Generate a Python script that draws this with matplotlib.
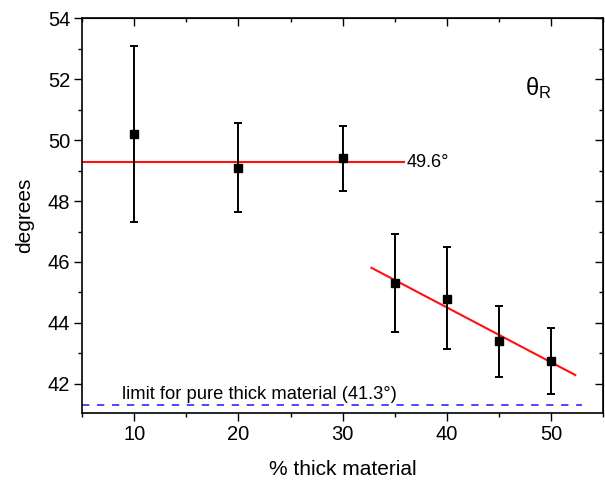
import matplotlib.pyplot as plt
import numpy as np

plt.rcParams['font.family'] = ['Liberation Sans', 'DejaVu Sans']

# measured points
pct = [10, 20, 30, 35, 40, 45, 50]
theta = [50.2, 49.1, 49.4, 45.31, 44.78, 43.4, 42.76]
err_hi = [53.08, 50.55, 50.47, 46.92, 46.48, 44.57, 43.82]
err_lo = [47.32, 47.64, 48.34, 43.69, 43.13, 42.22, 41.67]

# fitted lines
flat_x = [5, 35.9]
flat_y = [49.27, 49.27]
slope_x = [32.75, 52.3]
slope_y = [45.81, 42.29]
limit_x = [5, 52.9]
limit_y = [41.3, 41.3]

theta = np.array(theta)
yerr = [theta - np.array(err_lo), np.array(err_hi) - theta]

fig = plt.figure(figsize=(6.05, 4.8), dpi=100)
ax = fig.add_axes([0.1355, 0.14, 0.862, 0.822])

ax.plot(flat_x, flat_y, color='#ff1010', lw=1.5, zorder=2)
ax.plot(slope_x, slope_y, color='#ff1010', lw=1.5, zorder=2)
ax.plot(limit_x, limit_y, color='#1818ff', lw=1.1, ls=(0, (4.8, 5)), zorder=2)
ax.errorbar(pct, theta, yerr=yerr, fmt='s', color='black', ms=6,
            elinewidth=1.4, capsize=3.1, capthick=1.4, zorder=3)

ax.text(36.15, 49.25, '49.6°', fontsize=13, va='center', ha='left')
ax.text(8.8, 41.66, 'limit for pure thick material (41.3°)', fontsize=13.2,
        va='center', ha='left')
ax.text(47.5, 51.7, r'$\mathregular{θ_R}$', fontsize=17, va='center', ha='left')

ax.set_xlim(5, 55)
ax.set_ylim(41.05, 54)
ax.set_xticks([10, 20, 30, 40, 50])
ax.set_xticks(np.arange(5, 56, 10), minor=True)
ax.set_yticks(np.arange(42, 55, 2))
ax.set_yticks(np.arange(43, 54, 2), minor=True)
ax.tick_params(which='major', direction='out', length=5.5, width=1, labelsize=14.5,
               top=False, right=False, pad=3)
ax.tick_params(which='minor', direction='out', length=3, width=1,
               top=False, right=False)
ax.set_xlabel('% thick material', fontsize=15, labelpad=12)
ax.set_ylabel('degrees', fontsize=15, labelpad=10)

# inward ticks on top and right
top = ax.secondary_xaxis('top')
top.set_xticks([10, 20, 30, 40, 50])
top.set_xticks(np.arange(5, 56, 10), minor=True)
right = ax.secondary_yaxis('right')
right.set_yticks(np.arange(42, 55, 2))
right.set_yticks(np.arange(43, 54, 2), minor=True)
for sec in (top, right):
    sec.tick_params(which='major', direction='in', length=5.5, width=1,
                    labeltop=False, labelright=False)
    sec.tick_params(which='minor', direction='in', length=3, width=1)

for s in ax.spines.values():
    s.set_linewidth(1.2)

fig.savefig('out.png', dpi=100)
